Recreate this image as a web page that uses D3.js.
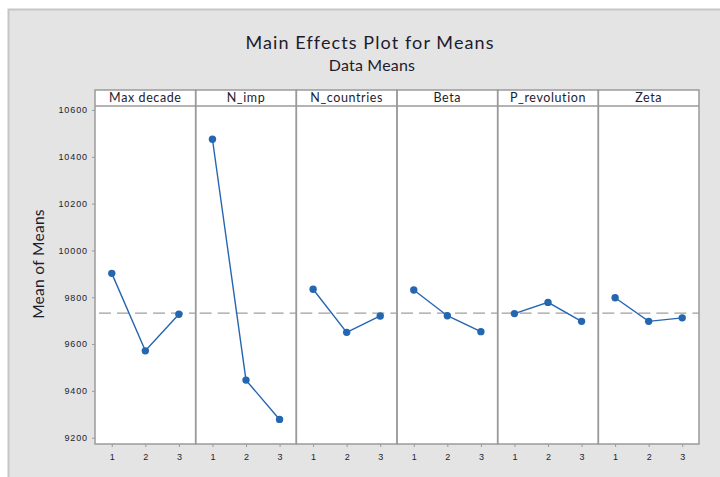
<!DOCTYPE html>
<html>
<head>
<meta charset="utf-8">
<script src="https://cdn.jsdelivr.net/npm/d3@7"></script>
<style>
  body { margin: 0; background: #fff; }
  text { font-family: Lato, "Open Sans", "DejaVu Sans", sans-serif; fill: #1c1c2e; }
</style>
</head>
<body>
<svg width="720" height="477"></svg>
<script>
const WIDTH = 720
const HEIGHT = 477

// factors and their level means
const factors = ["Max decade", "N_imp", "N_countries", "Beta", "P_revolution", "Zeta"]
const levels = ["1", "2", "3"]
const means = [
    [9902, 9571, 9727],
    [10475, 9446, 9278],
    [9834, 9650, 9720],
    [9831, 9721, 9653],
    [9730, 9778, 9697],
    [9798, 9697, 9712]
]
const grandMean = 9732
const yTicks = [9200, 9400, 9600, 9800, 10000, 10200, 10400, 10600]

const PLOT_LEFT = 95
const PLOT_RIGHT = 699
const PLOT_TOP = 106
const PLOT_BOTTOM = 444
const STRIP_TOP = 90
const LINE_COLOR = "#2566b0"

const svg = d3.select("svg")

// outer grey frame
svg.append("rect")
    .attr("x", 8.5).attr("y", 9.5)
    .attr("width", WIDTH).attr("height", HEIGHT)
    .attr("fill", "#e4e4e4")
    .attr("stroke", "#c6c6c6")
    .attr("stroke-width", 2)

svg.append("text")
    .attr("x", 370).attr("y", 49)
    .attr("text-anchor", "middle")
    .style("font-size", "18px")
    .style("letter-spacing", "1.1px")
    .text("Main Effects Plot for Means")

svg.append("text")
    .attr("x", 372).attr("y", 71)
    .attr("text-anchor", "middle")
    .style("font-size", "16px")
    .style("letter-spacing", "0.2px")
    .text("Data Means")

svg.append("text")
    .attr("transform", "translate(44," + 264 + ") rotate(-90)")
    .attr("text-anchor", "middle")
    .style("font-size", "15.5px")
    .style("letter-spacing", "0.3px")
    .text("Mean of Means")

let y = d3.scaleLinear()
    .domain([9173, 10617])
    .range([PLOT_BOTTOM, PLOT_TOP])

let panelX = d3.scaleBand()
    .domain(factors)
    .range([PLOT_LEFT, PLOT_RIGHT])
    .paddingInner(0).paddingOuter(0)

let pw = panelX.bandwidth()

let x = d3.scalePoint()
    .domain(levels)
    .range([0, pw])
    .padding(0.5)

// white plot areas
svg.append("rect")
    .attr("x", PLOT_LEFT).attr("y", STRIP_TOP)
    .attr("width", PLOT_RIGHT - PLOT_LEFT)
    .attr("height", PLOT_BOTTOM - STRIP_TOP)
    .attr("fill", "#fff")

// y axis
let yAxis = svg.append("g")
    .attr("transform", "translate(" + PLOT_LEFT + ",0)")
    .call(d3.axisLeft(y).tickValues(yTicks).tickSize(3).tickPadding(4).tickFormat(d3.format("d")))
yAxis.select(".domain").remove()
yAxis.selectAll(".tick line").attr("stroke", "#999")
yAxis.selectAll("text")
    .style("font-size", "9px")
    .style("letter-spacing", "0.9px")
    .style("font-family", "'Liberation Sans', sans-serif")

factors.forEach(function(f, i) {
    let g = svg.append("g")
        .attr("transform", "translate(" + panelX(f) + ",0)")

    // reference line at grand mean
    g.append("line")
        .attr("x1", 0).attr("x2", pw)
        .attr("y1", y(grandMean)).attr("y2", y(grandMean))
        .attr("stroke", "#a0a0a0")
        .attr("stroke-width", 1.4)
        .attr("stroke-dasharray", "12,6")
        .attr("stroke-dashoffset", -4)

    let pts = levels.map(function(l, j) { return { l: l, v: means[i][j] } })

    g.append("path")
        .datum(pts)
        .attr("fill", "none")
        .attr("stroke", LINE_COLOR)
        .attr("stroke-width", 1.4)
        .attr("d", d3.line().x(d => x(d.l)).y(d => y(d.v)))

    g.selectAll("circle")
        .data(pts)
        .enter().append("circle")
        .attr("cx", d => x(d.l))
        .attr("cy", d => y(d.v))
        .attr("r", 3.7)
        .attr("fill", LINE_COLOR)

    // panel box
    g.append("rect")
        .attr("x", 0).attr("y", STRIP_TOP)
        .attr("width", pw).attr("height", PLOT_BOTTOM - STRIP_TOP)
        .attr("fill", "none")
        .attr("stroke", "#9a9a9a")
        .attr("stroke-width", 1.5)

    g.append("line")
        .attr("x1", 0).attr("x2", pw)
        .attr("y1", PLOT_TOP).attr("y2", PLOT_TOP)
        .attr("stroke", "#9a9a9a")
        .attr("stroke-width", 1.5)

    g.append("text")
        .attr("x", pw / 2).attr("y", STRIP_TOP + 12)
        .attr("text-anchor", "middle")
        .style("font-size", "12.5px")
        .style("letter-spacing", "0.6px")
        .text(f)

    let xAxis = g.append("g")
        .attr("transform", "translate(0," + PLOT_BOTTOM + ")")
        .call(d3.axisBottom(x).tickSize(3).tickPadding(7))
    xAxis.select(".domain").remove()
    xAxis.selectAll(".tick line").attr("stroke", "#999")
    xAxis.selectAll("text").style("font-size", "9px").style("font-family", "'Liberation Sans', sans-serif")
})
</script>
</body>
</html>
